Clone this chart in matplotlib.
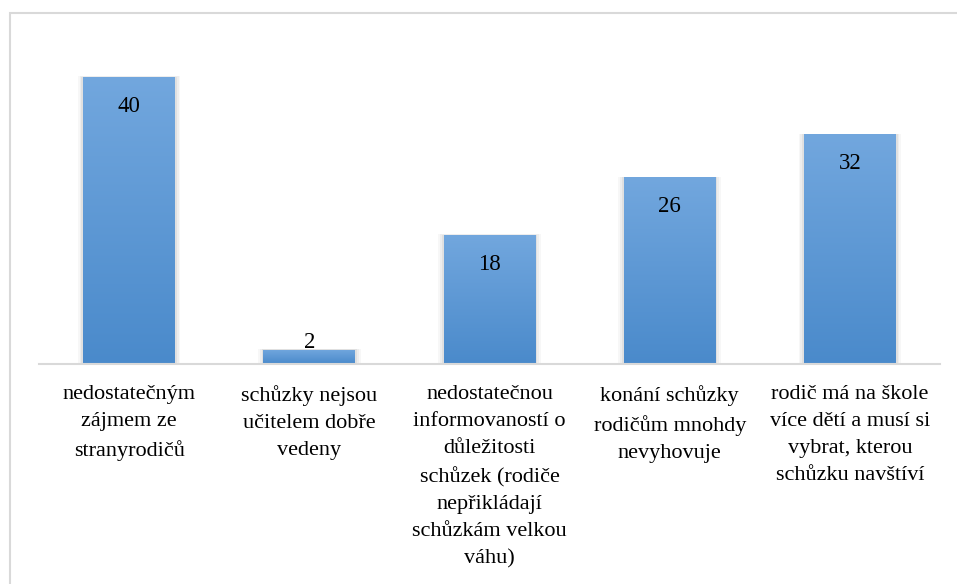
import matplotlib.pyplot as plt
import numpy as np
from matplotlib.colors import LinearSegmentedColormap
from matplotlib.patches import Rectangle

categories = [
    "nedostatečným\nzájmem ze\nstranyrodičů",
    "schůzky nejsou\nučitelem dobře\nvedeny",
    "nedostatečnou\ninformovaností o\ndůležitosti\nschůzek (rodiče\nnepřikládají\nschůzkám velkou\nváhu)",
    "konání schůzky\nrodičům mnohdy\nnevyhovuje",
    "rodič má na škole\nvíce dětí a musí si\nvybrat, kterou\nschůzku navštíví",
]
values = [40, 2, 18, 26, 32]

FONT = ['Liberation Serif', 'DejaVu Serif']
plt.rcParams['font.family'] = FONT

W, H = 957, 584
fig = plt.figure(figsize=(W / 100, H / 100), dpi=100)

# rámeček kolem grafu (oříznutý vpravo a dole)
fig.patches.append(Rectangle((9.5 / W, -0.1), 2, 1.1 - 12.5 / H, transform=fig.transFigure,
                             fill=False, edgecolor='#d9d9d9', linewidth=1.5))

ax = fig.add_axes([39 / W, 220 / H, (940 - 39) / W, (364 - 41) / H])
x = np.arange(len(values))
bar_w = 0.51

cmap = LinearSegmentedColormap.from_list('g', ['#4a8acb', '#72a7de'])
grad = np.linspace(0, 1, 256).reshape(-1, 1)

bars = ax.bar(x, values, width=bar_w, color='none', zorder=3)
for b, v in zip(bars, values):
    x0 = b.get_x()
    # jemný stín
    for k, a in [(0.03, 0.03), (0.02, 0.04), (0.01, 0.05)]:
        ax.add_patch(Rectangle((x0 - k, 0), bar_w + 2 * k, v + k * 3,
                               facecolor='#000000', alpha=a, linewidth=0, zorder=2))
    im = ax.imshow(grad, extent=[x0, x0 + bar_w, 0, v], origin='lower', cmap=cmap,
                   aspect='auto', zorder=3)
    im.set_clip_path(b)
    ypos = v - 4.1 if v >= 5 else v + 1.0
    ax.text(x0 + bar_w / 2, ypos, str(v), ha='center', va='center',
            fontsize=16.5, family=FONT, color='#000000', zorder=4)

ax.set_xlim(-0.5, len(values) - 0.5)
ax.set_ylim(0, 45)
for s in ['top', 'right', 'left']:
    ax.spines[s].set_visible(False)
ax.spines['bottom'].set_color('#d9d9d9')
ax.spines['bottom'].set_linewidth(1.5)
ax.spines['bottom'].set_zorder(5)
ax.set_yticks([])
ax.set_xticks(x)
ax.set_xticklabels(categories, fontsize=16, family=FONT, linespacing=1.57, va='top')
ax.tick_params(axis='x', length=0, pad=15)

fig.savefig('out.png', dpi=100)
